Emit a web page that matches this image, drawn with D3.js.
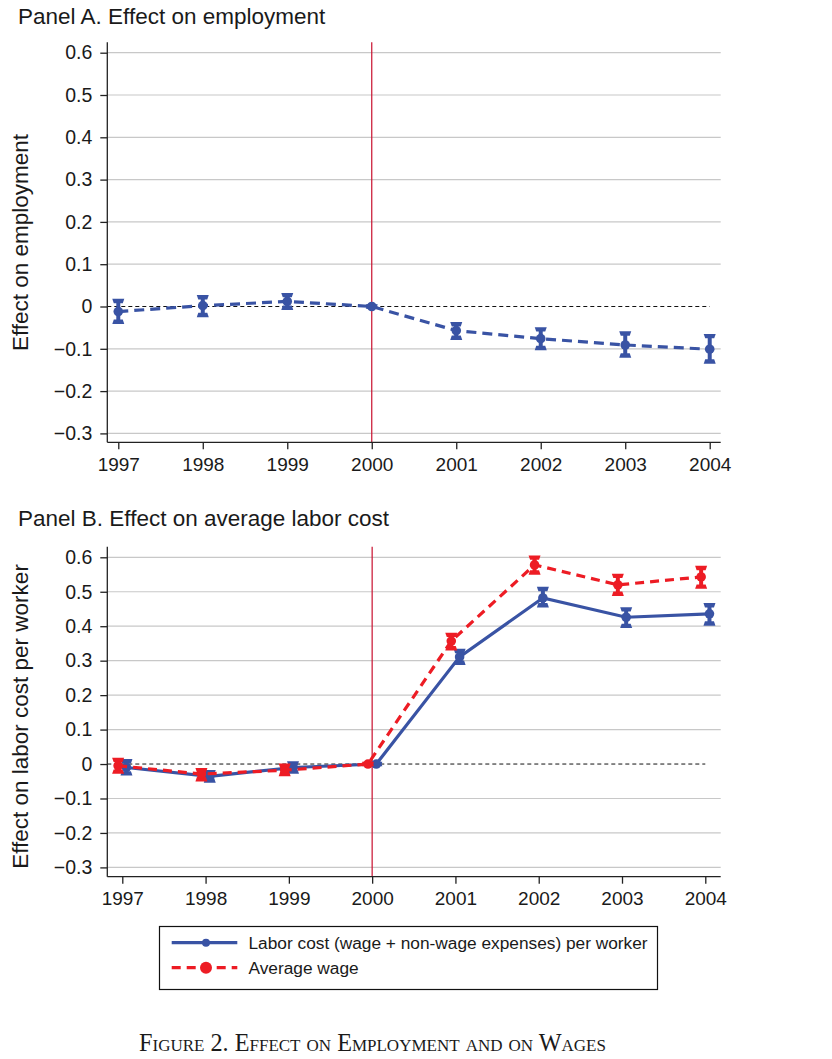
<!DOCTYPE html>
<html>
<head>
<meta charset="utf-8">
<script src="https://cdn.jsdelivr.net/npm/d3@7"></script>
<style>
  html, body { margin: 0; padding: 0; background: #fff; }
  svg { display: block; }
  text { font-family: "Liberation Sans", Arial, Helvetica, sans-serif; fill: #1a1a1a; }
</style>
</head>
<body>
<svg id="chart" width="832" height="1059"></svg>
<script>
// ---------- data ----------
const years = [1997, 1998, 1999, 2000, 2001, 2002, 2003, 2004];
const yTicks = [-0.3, -0.2, -0.1, 0, 0.1, 0.2, 0.3, 0.4, 0.5, 0.6];

const empEst = [-0.012, 0.002, 0.012, 0, -0.057, -0.076, -0.091, -0.101];
const empLo  = [-0.036, -0.020, -0.003, 0, -0.074, -0.098, -0.116, -0.130];
const empHi  = [0.013, 0.022, 0.027, 0, -0.042, -0.054, -0.064, -0.070];

const laborEst = [-0.010, -0.036, -0.010, 0, 0.311, 0.482, 0.426, 0.436];
const laborLo  = [-0.027, -0.048, -0.022, 0, 0.294, 0.461, 0.401, 0.408];
const laborHi  = [0.008, -0.024, 0.002, 0, 0.328, 0.508, 0.449, 0.461];

const wageEst = [-0.005, -0.029, -0.018, 0, 0.357, 0.578, 0.520, 0.543];
const wageLo  = [-0.022, -0.044, -0.029, 0, 0.336, 0.556, 0.494, 0.515];
const wageHi  = [0.012, -0.018, -0.005, 0, 0.375, 0.599, 0.546, 0.569];

const legendLabels = ["Labor cost (wage + non-wage expenses) per worker", "Average wage"];
const titleA = "Panel A. Effect on employment";
const titleB = "Panel B. Effect on average labor cost";
const ylabelA = "Effect on employment";
const ylabelB = "Effect on labor cost per worker";
const caption = "Figure 2. Effect on Employment and on Wages";

// ---------- styles ----------
const BLUE = "#3953a4";
const RED = "#ed1c24";
const VLINE = "#c8102e";
const GRID = "#c8c8c8";
const AXIS = "#222";

const svg = d3.select("#chart");
const fmt = v => (v === 0 ? "0" : (v < 0 ? "\u2212" : "") + Math.abs(v).toFixed(1));

function panel(cfg) {
  const g = svg.append("g");
  const x = d3.scaleLinear().domain(cfg.xDomain).range([cfg.left, cfg.right]);
  const y = d3.scaleLinear().domain([-0.3, 0.6]).range([cfg.y0, cfg.y1]);

  // title
  g.append("text").attr("x", 18).attr("y", cfg.titleY)
    .style("font-size", "22.5px").text(cfg.title);

  // gridlines
  g.selectAll(".grid").data(yTicks.filter(t => t !== 0)).enter().append("line")
    .attr("x1", cfg.left).attr("x2", cfg.right)
    .attr("y1", d => y(d)).attr("y2", d => y(d))
    .attr("stroke", GRID).attr("stroke-width", 1.2);

  // zero dashed line
  g.append("line")
    .attr("x1", cfg.left).attr("x2", x(2004))
    .attr("y1", y(0)).attr("y2", y(0))
    .attr("stroke", "#111").attr("stroke-width", 1)
    .attr("stroke-dasharray", "4,3");

  // vertical line at 2000
  g.append("line")
    .attr("x1", x(2000)).attr("x2", x(2000))
    .attr("y1", cfg.top).attr("y2", cfg.bottom)
    .attr("stroke", VLINE).attr("stroke-width", 1.2);

  // y axis
  const yAxis = d3.axisLeft(y).tickValues(yTicks).tickFormat(fmt).tickSize(7).tickPadding(8);
  const ya = g.append("g").attr("transform", `translate(${cfg.left},0)`).call(yAxis);
  ya.select(".domain").remove();
  ya.append("line").attr("x1", 0).attr("x2", 0).attr("y1", cfg.top).attr("y2", cfg.bottom)
    .attr("stroke", AXIS).attr("stroke-width", 1.3);
  ya.selectAll(".tick line").attr("stroke", AXIS).attr("stroke-width", 1.3);
  ya.selectAll(".tick text").style("font-size", "19.5px").attr("fill", "#1a1a1a")
    .style("font-family", '"Liberation Sans", Arial, sans-serif');

  // x axis
  const xAxis = d3.axisBottom(x).tickValues(years).tickFormat(d3.format("d")).tickSize(7).tickPadding(8);
  const xa = g.append("g").attr("transform", `translate(0,${cfg.bottom})`).call(xAxis);
  xa.select(".domain").remove();
  xa.append("line").attr("x1", cfg.left).attr("x2", cfg.right).attr("y1", 0).attr("y2", 0)
    .attr("stroke", AXIS).attr("stroke-width", 1.3);
  xa.selectAll(".tick line").attr("stroke", AXIS).attr("stroke-width", 1.3);
  xa.selectAll(".tick text").style("font-size", "19px").attr("fill", "#1a1a1a")
    .style("font-family", '"Liberation Sans", Arial, sans-serif');

  // y label
  g.append("text")
    .attr("transform", `translate(${cfg.ylabelX},${cfg.ylabelY}) rotate(-90)`)
    .attr("text-anchor", "middle").style("font-size", "22.5px").text(cfg.ylabel);

  // series
  cfg.series.forEach(s => {
    const pts = years.map((yr, i) => ({ x: yr + s.offset, est: s.est[i], lo: s.lo[i], hi: s.hi[i] }));
    const line = d3.line().x(d => x(d.x)).y(d => y(d.est));
    g.append("path").datum(pts).attr("d", line)
      .attr("fill", "none").attr("stroke", s.color).attr("stroke-width", 3.2)
      .attr("stroke-dasharray", s.dash || null);
    const eb = g.selectAll(null).data(pts).enter().append("g");
    eb.append("line")
      .attr("x1", d => x(d.x)).attr("x2", d => x(d.x))
      .attr("y1", d => y(d.lo)).attr("y2", d => y(d.hi))
      .attr("stroke", s.color).attr("stroke-width", 4);
    ["lo", "hi"].forEach(k => {
      eb.append("path")
        .attr("d", d => {
          const cx = x(d.x), cy = y(d[k]);
          const sgn = k === "lo" ? 1 : -1;
          return `M${cx - 6},${cy + sgn * 2.2} L${cx + 6},${cy + sgn * 2.2} L${cx + 4.5},${cy - sgn * 2.2} L${cx - 4.5},${cy - sgn * 2.2} Z`;
        })
        .attr("fill", s.color);
    });
    eb.append("circle")
      .attr("cx", d => x(d.x)).attr("cy", d => y(d.est)).attr("r", s.r)
      .attr("fill", s.color);
  });
}

panel({
  title: titleA, titleY: 24, ylabel: ylabelA, ylabelX: 28, ylabelY: 242.5,
  left: 107.3, right: 720.7, top: 42.3, bottom: 442.3,
  xDomain: [1996.87, 2004.13], y0: 433.4, y1: 52.7,
  series: [
    { est: empEst, lo: empLo, hi: empHi, color: BLUE, dash: "10,6", offset: 0, r: 4.8 }
  ]
});

panel({
  title: titleB, titleY: 526, ylabel: ylabelB, ylabelX: 28, ylabelY: 716.5,
  left: 107.3, right: 720.7, top: 546.7, bottom: 876.7,
  xDomain: [1996.82, 2004.185], y0: 867.4, y1: 557.3,
  series: [
    { est: laborEst, lo: laborLo, hi: laborHi, color: BLUE, dash: null, offset: 0.05, r: 4.8 },
    { est: wageEst, lo: wageLo, hi: wageHi, color: RED, dash: "9,6", offset: -0.05, r: 4.8 }
  ]
});

// ---------- legend ----------
const lg = svg.append("g");
lg.append("rect").attr("x", 159.5).attr("y", 926.5).attr("width", 498).attr("height", 63)
  .attr("fill", "#fff").attr("stroke", "#111").attr("stroke-width", 1.2);
const legendItems = [
  { label: legendLabels[0], color: BLUE, dash: null, r: 4, y: 942.7 },
  { label: legendLabels[1], color: RED, dash: "9,6", r: 6, y: 967.7 }
];
legendItems.forEach(it => {
  lg.append("line").attr("x1", 171.7).attr("x2", 237.3).attr("y1", it.y).attr("y2", it.y)
    .attr("stroke", it.color).attr("stroke-width", 3.2).attr("stroke-dasharray", it.dash);
  lg.append("circle").attr("cx", 206).attr("cy", it.y).attr("r", it.r).attr("fill", it.color);
  lg.append("text").attr("x", 248.5).attr("y", it.y + 6.5).style("font-size", "17.3px").text(it.label);
});

// ---------- caption ----------
svg.append("text").attr("x", 372.5).attr("y", 1051).attr("text-anchor", "middle")
  .style("font-family", '"Liberation Serif", "Times New Roman", serif')
  .style("font-variant", "small-caps").style("font-size", "24.2px")
  .text(caption);
</script>
</body>
</html>
